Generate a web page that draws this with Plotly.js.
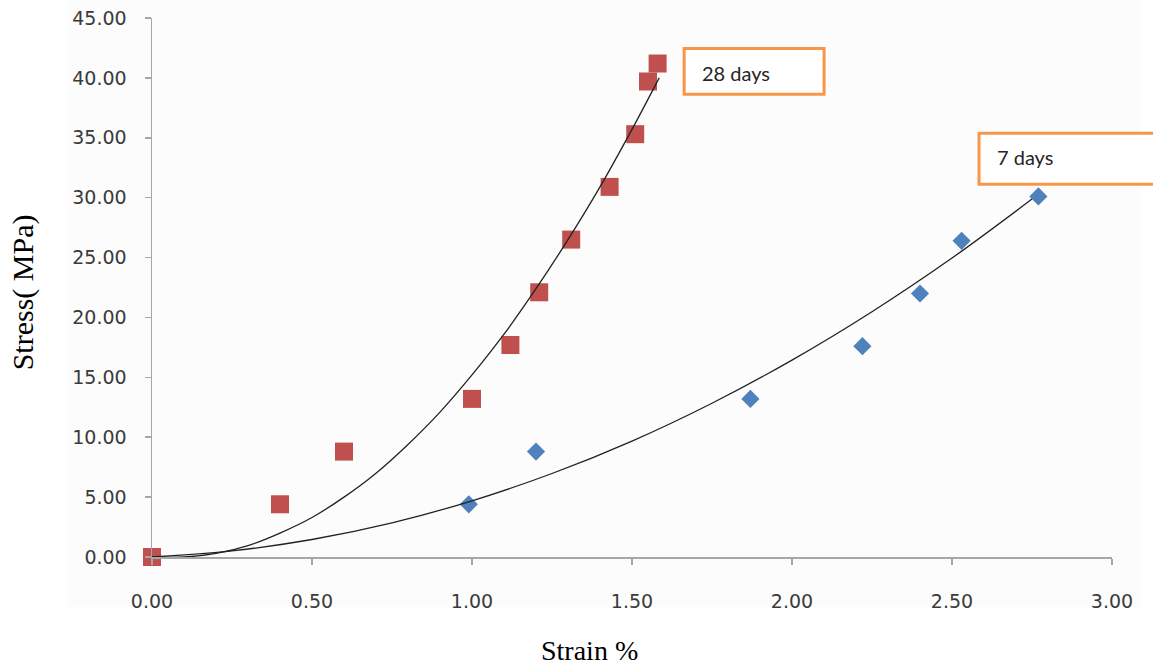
<!DOCTYPE html>
<html><head><meta charset="utf-8">
<script src="https://cdn.plot.ly/plotly-3.0.1.min.js"></script>
<style>body{margin:0;background:#fff}#chart{width:1153px;height:672px}</style>
</head><body><div id="chart"></div>
<script>
// Measured data (Strain %, Stress MPa)
const strain28 = [0.00, 0.40, 0.60, 1.00, 1.12, 1.21, 1.31, 1.43, 1.51, 1.55, 1.58];
const stress28 = [0.00, 4.40, 8.80, 13.20, 17.70, 22.10, 26.50, 30.90, 35.30, 39.70, 41.20];
const strain7 = [0.00, 0.99, 1.20, 1.87, 2.22, 2.40, 2.53, 2.77];
const stress7 = [0.00, 4.40, 8.80, 13.20, 17.60, 22.00, 26.40, 30.10];
// Trend curves
const trendX28 = [0, 0.1, 0.2, 0.3, 0.4, 0.5, 0.6, 0.7, 0.8, 0.9, 1.0, 1.1, 1.2, 1.3, 1.4, 1.5, 1.585];
const trendY28 = [0, 0.0, 0.3, 0.95, 2.0, 3.3, 5.0, 7.0, 9.4, 12.1, 15.2, 18.6, 22.4, 26.5, 30.9, 35.7, 40.0];
const trendX7 = [0, 0.25, 0.5, 0.75, 1.0, 1.25, 1.5, 1.75, 2.0, 2.25, 2.5, 2.75];
const trendY7 = [0, 0.51, 1.46, 2.85, 4.69, 6.97, 9.68, 12.84, 16.44, 20.48, 24.96, 29.88];
const xTicks = [0, 0.5, 1, 1.5, 2, 2.5, 3];
const yTicks = [0, 5, 10, 15, 20, 25, 30, 35, 40, 45];
const labels = ["28 days", "7 days"];
const xTitle = "Strain %";
const yTitle = "Stress( MPa)";

const traces = [
  {x: strain7, y: stress7, mode: 'markers', type: 'scatter', cliponaxis: false,
   marker: {symbol: 'diamond', size: 14, color: '#4f81bd'}},
  {x: strain28, y: stress28, mode: 'markers', type: 'scatter', cliponaxis: false,
   marker: {symbol: 'square', size: 18, color: '#c0504d'}},
  {x: trendX28, y: trendY28, mode: 'lines', type: 'scatter', cliponaxis: false,
   line: {color: '#222222', width: 1.3, shape: 'spline'}},
  {x: trendX7, y: trendY7, mode: 'lines', type: 'scatter', cliponaxis: false,
   line: {color: '#222222', width: 1.3, shape: 'spline'}}
];

const L = 151.7, T = 17.5, W = 960.3, H = 540;
const px = v => (v - L) / W;
const py = v => (T + H - v) / H;

const axisCommon = {
  showgrid: false, zeroline: false, showline: true, linecolor: '#a6a6a6', linewidth: 1.5,
  ticks: 'outside', ticklen: 6, tickcolor: '#a6a6a6', tickwidth: 1.5,
  tickfont: {family: 'DejaVu Sans', size: 19, color: '#3a3a3a'},
  tickformat: '.2f', tickmode: 'array'
};

const layout = {
  width: 1153, height: 672, showlegend: false,
  paper_bgcolor: '#ffffff', plot_bgcolor: 'rgba(0,0,0,0)',
  margin: {l: L, r: 1153 - L - W, t: T, b: 672 - T - H},
  xaxis: Object.assign({}, axisCommon, {range: [0, 3], tickvals: xTicks, ticklabelstandoff: 21}),
  yaxis: Object.assign({}, axisCommon, {range: [0, 45], tickvals: yTicks, ticklabelstandoff: 14}),
  shapes: [
    {type: 'rect', xref: 'paper', yref: 'paper', layer: 'below',
     x0: px(67), x1: px(1140), y0: py(607), y1: py(0),
     fillcolor: '#fcfcfc', line: {width: 0}},
    {type: 'rect', xref: 'paper', yref: 'paper',
     x0: px(684), x1: px(824), y0: py(94), y1: py(48),
     fillcolor: '#ffffff', line: {color: '#f79646', width: 3}},
    {type: 'rect', xref: 'paper', yref: 'paper',
     x0: px(979), x1: px(1160), y0: py(184), y1: py(133),
     fillcolor: '#ffffff', line: {color: '#f79646', width: 3}}
  ],
  annotations: [
    {text: labels[0], xref: 'paper', yref: 'paper', x: px(700), y: py(73),
     xanchor: 'left', yanchor: 'middle', showarrow: false,
     font: {family: 'Lato', size: 20, color: '#262626'}},
    {text: labels[1], xref: 'paper', yref: 'paper', x: px(995), y: py(157),
     xanchor: 'left', yanchor: 'middle', showarrow: false,
     font: {family: 'Lato', size: 20, color: '#262626'}},
    {text: xTitle, xref: 'paper', yref: 'paper', x: px(589), y: py(651),
     xanchor: 'center', yanchor: 'middle', showarrow: false,
     font: {family: 'Liberation Serif', size: 28, color: '#000'}},
    {text: yTitle, xref: 'paper', yref: 'paper', x: px(23), y: py(292),
     xanchor: 'center', yanchor: 'middle', showarrow: false, textangle: -90,
     font: {family: 'Liberation Serif', size: 30, color: '#000'}}
  ]
};

Plotly.newPlot('chart', traces, layout, {displayModeBar: false, staticPlot: true});
</script></body></html>
